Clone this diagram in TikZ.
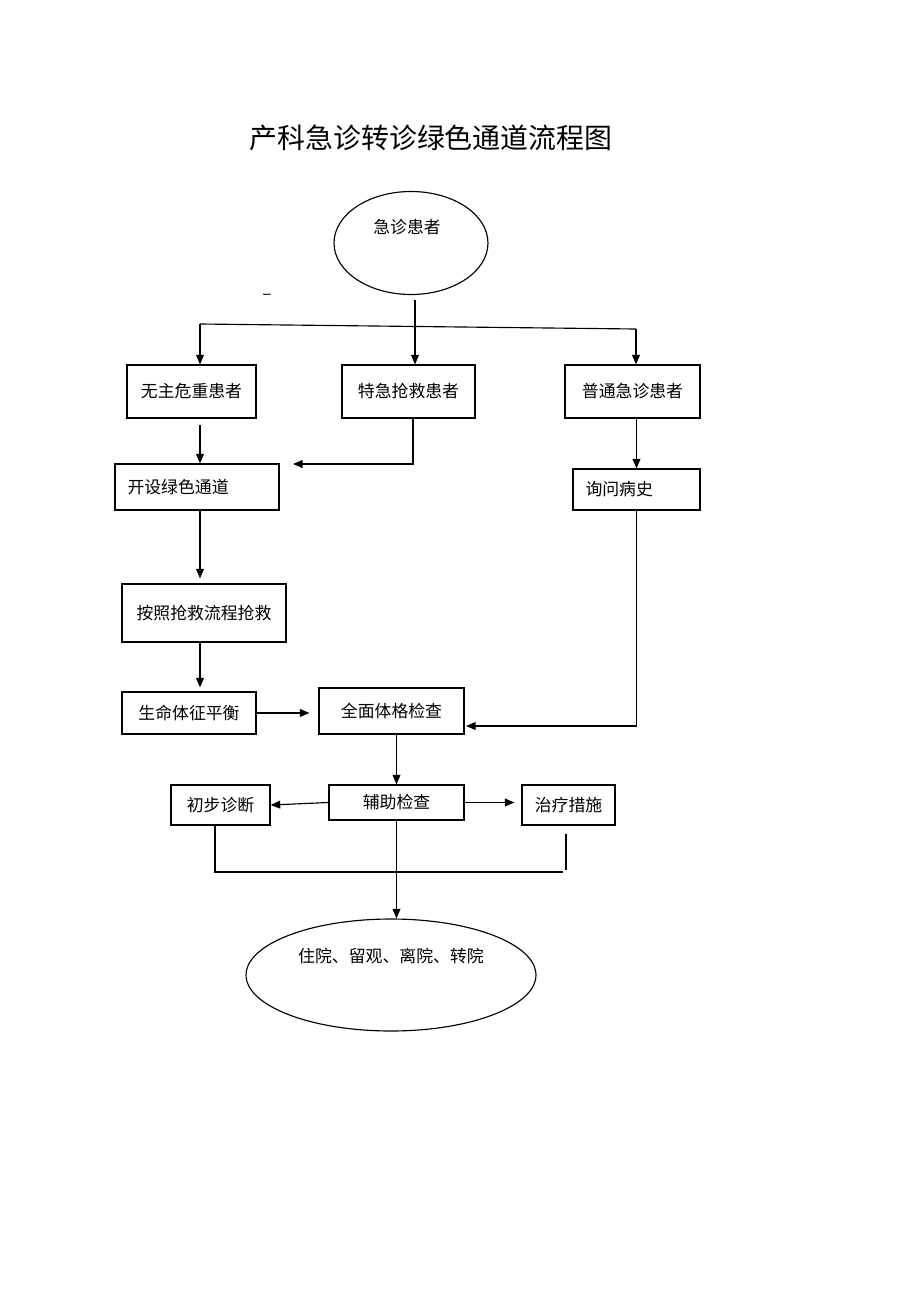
\documentclass[tikz,border=0pt]{standalone}
\usepackage{fontspec}
\newfontfamily\cjk{Noto Sans CJK SC}
\usetikzlibrary{arrows.meta,shapes.geometric}
\tikzstyle{box}=[draw,rectangle,align=center,inner sep=0pt]
\tikzstyle{leftbox}=[draw,rectangle,align=left,inner ysep=0pt,inner xsep=0.25cm]
\tikzstyle{oval}=[draw,ellipse,inner sep=0pt]
\tikzstyle{arr}=[-{Triangle[length=5.5pt,width=4.5pt]}]

\begin{document}
\begin{tikzpicture}[x=0.02cm,y=-0.02cm,line width=0.65pt,
	font=\cjk\fontsize{9.6}{11}\selectfont]
	\useasboundingbox (0,0) rectangle (920,1302);

	\node[font=\cjk\fontsize{15.9}{19}\selectfont] (title) at (431,138) {产科急诊转诊绿色通道流程图};

	\node[oval, minimum width=3.08cm, minimum height=2.06cm] (jz) at (411,243) {};
	\node (jzt) at (407,227) {急诊患者};
	\node (dash) at (267,297) {–};

	% % % three kinds of patients
	\node[box, minimum width=2.58cm, minimum height=1.06cm] (wz) at (191.5,391.5) {无主危重患者};
	\node[box, minimum width=2.66cm, minimum height=1.06cm] (tj) at (408.5,391.5) {特急抢救患者};
	\node[box, minimum width=2.70cm, minimum height=1.06cm] (pt) at (632.5,391.5) {普通急诊患者};

	\coordinate (t0) at (415,300);
	\coordinate (hl) at (200,324);
	\coordinate (hr) at (636,329);
	\path[draw] (hl) -- (hr);
	\path[draw,arr] (t0) -- (t0 |- tj.north);
	\path[draw,arr] (hl) -- (hl |- wz.north);
	\path[draw,arr] (hr) -- (hr |- pt.north);

	% % % left column
	\node[leftbox, text width=2.78cm, minimum height=0.92cm] (kl) at (197,487) {开设绿色通道};
	\node[box, minimum width=3.28cm, minimum height=1.16cm] (aj) at (204,613) {按照抢救流程抢救};
	\node[box, minimum width=2.68cm, minimum height=0.84cm] (sm) at (189,713) {生命体征平衡};

	\coordinate (a1) at (200,425);
	\coordinate (b1) at (413,418);
	\coordinate (b2) at (293,464);
	\path[draw,arr] (a1) -- (a1 |- kl.north);
	\path[draw,arr] (b1) |- (b2);
	\path[draw,arr] (kl.south -| hl) -- ([yshift=0.1cm]aj.north -| hl);
	\path[draw,arr] (aj.south -| hl) -- ([yshift=0.08cm]sm.north -| hl);

	% % % right column
	\node[leftbox, text width=2.04cm, minimum height=0.82cm] (xw) at (636.5,489.5) {询问病史};
	\path[draw,arr] (xw.north |- pt.south) -- (xw.north);

	% % % middle
	\node[box, minimum width=2.90cm, minimum height=0.92cm] (qm) at (391.5,711) {全面体格检查};
	\node[box, minimum width=2.70cm, minimum height=0.70cm] (fz) at (396.5,802.5) {辅助检查};
	\node[box, minimum width=1.98cm, minimum height=0.80cm] (cb) at (220.5,805) {初步诊断};
	\node[box, minimum width=1.86cm, minimum height=0.80cm] (zl) at (568.5,805) {治疗措施};

	\coordinate (d1) at (466,726);
	\path[draw,arr,shorten >=0.18cm] (sm.east) -- (sm.east -| qm.west);
	\path[draw,arr] (xw.south) |- (d1);
	\path[draw,arr] (fz.north |- qm.south) -- (fz.north);
	\path[draw,arr] (fz.west) -- (cb.east);
	\path[draw,arr,shorten >=0.14cm] (fz.east) -- (fz.east -| zl.west);

	\coordinate (e0) at (215,872);
	\coordinate (e1) at (563,872);
	\coordinate (f0) at (566,834);
	\coordinate (f1) at (566,870);
	\path[draw] (cb.south -| e0) -- (e0) -- (e1);
	\path[draw] (f0) -- (f1);

	% % % end
	\node[oval, minimum width=5.8cm, minimum height=2.24cm] (zy) at (391,975) {};
	\node (zyt) at (391,956) {住院、留观、离院、转院};
	\path[draw,arr] (fz.south) -- (fz.south |- zy.north);
\end{tikzpicture}
\end{document}
